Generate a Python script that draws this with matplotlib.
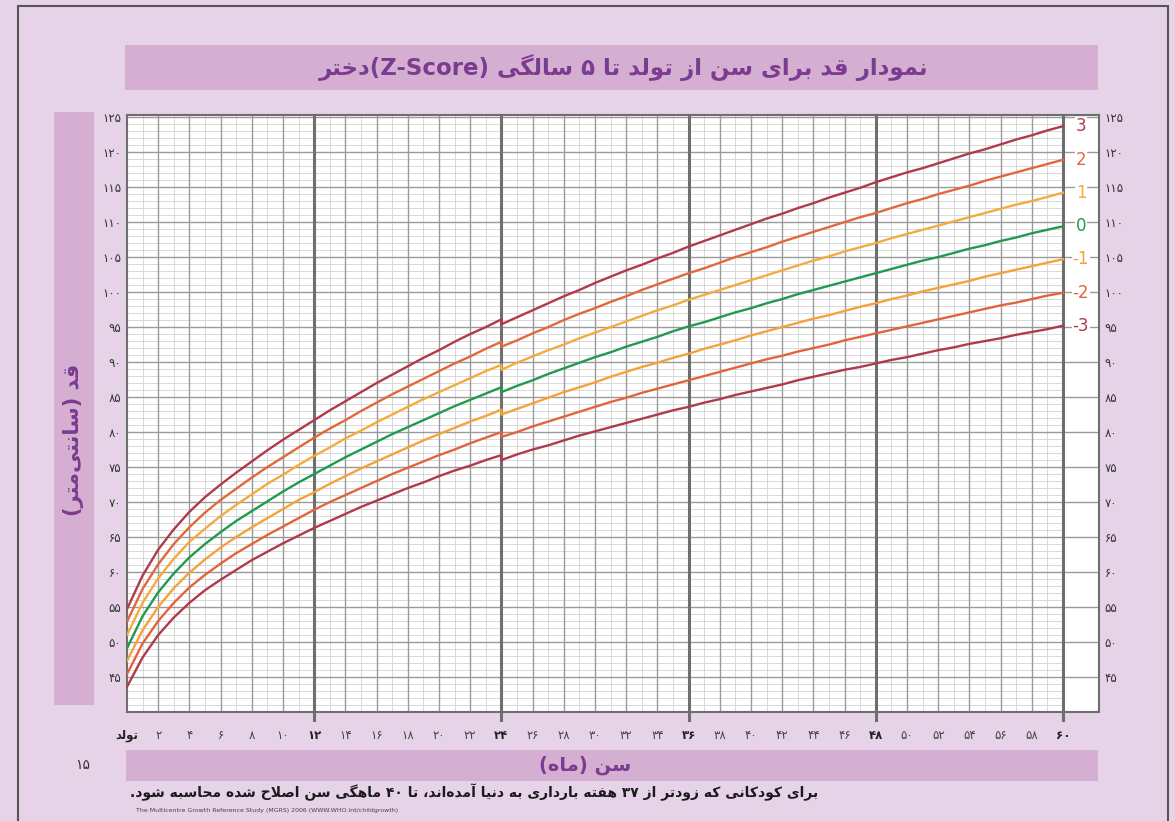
import re
import matplotlib
matplotlib.use('Agg')
import matplotlib.pyplot as plt
from matplotlib.patches import Rectangle

# WHO length/height-for-age, girls 0-60 months (length to 24, height from 24)
ages = list(range(0, 25)) + list(range(24, 61))

sd3neg = [43.6, 47.8, 51.0, 53.5, 55.6, 57.4, 58.9, 60.3, 61.7, 62.9, 64.1, 65.2, 66.3, 67.3, 68.3, 69.3, 70.2, 71.1, 72.0, 72.8, 73.7, 74.5, 75.2, 76.0, 76.7,
          76.0, 76.8, 77.5, 78.1, 78.8, 79.5, 80.1, 80.7, 81.3, 81.9, 82.5, 83.1, 83.6, 84.2, 84.7, 85.3, 85.8, 86.3, 86.8, 87.4, 87.9, 88.4, 88.9, 89.3, 89.8, 90.3, 90.7, 91.2, 91.7, 92.1, 92.6, 93.0, 93.4, 93.9, 94.3, 94.7, 95.2]
sd2neg = [45.4, 49.8, 53.0, 55.6, 57.8, 59.6, 61.2, 62.7, 64.0, 65.3, 66.5, 67.7, 68.9, 70.0, 71.0, 72.0, 73.0, 74.0, 74.9, 75.8, 76.7, 77.5, 78.4, 79.2, 80.0,
          79.3, 80.0, 80.8, 81.5, 82.2, 82.9, 83.6, 84.3, 84.9, 85.6, 86.2, 86.8, 87.4, 88.0, 88.6, 89.2, 89.8, 90.4, 90.9, 91.5, 92.0, 92.5, 93.1, 93.6, 94.1, 94.6, 95.1, 95.6, 96.1, 96.6, 97.1, 97.6, 98.1, 98.5, 99.0, 99.5, 99.9]
sd1neg = [47.3, 51.7, 55.0, 57.7, 59.9, 61.8, 63.5, 65.0, 66.4, 67.7, 69.0, 70.3, 71.4, 72.6, 73.7, 74.8, 75.8, 76.8, 77.8, 78.8, 79.7, 80.6, 81.5, 82.3, 83.2,
          82.5, 83.3, 84.1, 84.9, 85.7, 86.4, 87.1, 87.9, 88.6, 89.3, 89.9, 90.6, 91.2, 91.9, 92.5, 93.1, 93.8, 94.4, 95.0, 95.6, 96.2, 96.7, 97.3, 97.9, 98.4, 99.0, 99.5, 100.1, 100.6, 101.1, 101.6, 102.2, 102.7, 103.2, 103.7, 104.2, 104.7]
median = [49.1, 53.7, 57.1, 59.8, 62.1, 64.0, 65.7, 67.3, 68.7, 70.1, 71.5, 72.8, 74.0, 75.2, 76.4, 77.5, 78.6, 79.7, 80.7, 81.7, 82.7, 83.7, 84.6, 85.5, 86.4,
          85.7, 86.6, 87.4, 88.3, 89.1, 89.9, 90.7, 91.4, 92.2, 92.9, 93.6, 94.4, 95.1, 95.7, 96.4, 97.1, 97.7, 98.4, 99.0, 99.7, 100.3, 100.9, 101.5, 102.1, 102.7, 103.3, 103.9, 104.5, 105.0, 105.6, 106.2, 106.7, 107.3, 107.8, 108.4, 108.9, 109.4]
sd1 = [51.0, 55.6, 59.1, 61.9, 64.3, 66.2, 68.0, 69.6, 71.1, 72.6, 73.9, 75.3, 76.6, 77.8, 79.1, 80.2, 81.4, 82.5, 83.6, 84.7, 85.7, 86.7, 87.7, 88.7, 89.6,
       88.9, 89.9, 90.8, 91.7, 92.5, 93.4, 94.2, 95.0, 95.8, 96.6, 97.4, 98.1, 98.9, 99.6, 100.3, 101.0, 101.7, 102.4, 103.1, 103.8, 104.5, 105.1, 105.8, 106.4, 107.0, 107.7, 108.3, 108.9, 109.5, 110.1, 110.7, 111.3, 111.9, 112.5, 113.0, 113.6, 114.2]
sd2 = [52.9, 57.6, 61.1, 64.0, 66.4, 68.5, 70.3, 71.9, 73.5, 75.0, 76.4, 77.8, 79.2, 80.5, 81.7, 83.0, 84.2, 85.4, 86.5, 87.6, 88.7, 89.8, 90.8, 91.9, 92.9,
       92.2, 93.1, 94.1, 95.0, 96.0, 96.9, 97.7, 98.6, 99.4, 100.3, 101.1, 101.9, 102.7, 103.4, 104.2, 105.0, 105.7, 106.4, 107.2, 107.9, 108.6, 109.3, 110.0, 110.7, 111.3, 112.0, 112.7, 113.3, 114.0, 114.6, 115.2, 115.9, 116.5, 117.1, 117.7, 118.3, 118.9]
sd3 = [54.7, 59.5, 63.2, 66.1, 68.6, 70.7, 72.5, 74.2, 75.8, 77.4, 78.9, 80.3, 81.7, 83.1, 84.4, 85.7, 87.0, 88.2, 89.4, 90.6, 91.7, 92.9, 94.0, 95.0, 96.1,
       95.4, 96.4, 97.4, 98.4, 99.4, 100.3, 101.3, 102.2, 103.1, 103.9, 104.8, 105.6, 106.5, 107.3, 108.1, 108.9, 109.7, 110.5, 111.2, 112.0, 112.7, 113.5, 114.2, 114.9, 115.7, 116.4, 117.1, 117.7, 118.4, 119.1, 119.8, 120.4, 121.1, 121.8, 122.4, 123.1, 123.7]

z_labels = ['3', '2', '1', '0', '-1', '-2', '-3']
x_tick_months = list(range(0, 61, 2))
y_tick_values = list(range(45, 126, 5))

TITLE = 'نمودار قد برای سن از تولد تا ۵ سالگی (Z-Score)دختر'
YLABEL = 'قد (سانتی\u200cمتر)'
XLABEL = 'سن (ماه)'
BIRTH = 'تولد'
NOTE = 'برای کودکانی که زودتر از ۳۷ هفته بارداری به دنیا آمده\u200cاند، تا ۴۰ ماهگی سن اصلاح شده محاسبه شود.'
SOURCE = 'The Multicentre Growth Reference Study (MGRS) 2006 (WWW.WHO.int/childgrowth)'
PAGE = '۱۵'

# --- minimal Arabic/Persian shaping (matplotlib has no complex text layout)
FORMS = {
    'ا': ('\uFE8D', '\uFE8E', None, None), 'آ': ('\uFE81', '\uFE82', None, None),
    'د': ('\uFEA9', '\uFEAA', None, None), 'ذ': ('\uFEAB', '\uFEAC', None, None),
    'ر': ('\uFEAD', '\uFEAE', None, None), 'ز': ('\uFEAF', '\uFEB0', None, None),
    'ژ': ('\uFB8A', '\uFB8B', None, None), 'و': ('\uFEED', '\uFEEE', None, None),
    'ب': ('\uFE8F', '\uFE90', '\uFE91', '\uFE92'), 'پ': ('\uFB56', '\uFB57', '\uFB58', '\uFB59'),
    'ت': ('\uFE95', '\uFE96', '\uFE97', '\uFE98'), 'ث': ('\uFE99', '\uFE9A', '\uFE9B', '\uFE9C'),
    'ج': ('\uFE9D', '\uFE9E', '\uFE9F', '\uFEA0'), 'چ': ('\uFB7A', '\uFB7B', '\uFB7C', '\uFB7D'),
    'ح': ('\uFEA1', '\uFEA2', '\uFEA3', '\uFEA4'), 'خ': ('\uFEA5', '\uFEA6', '\uFEA7', '\uFEA8'),
    'س': ('\uFEB1', '\uFEB2', '\uFEB3', '\uFEB4'), 'ش': ('\uFEB5', '\uFEB6', '\uFEB7', '\uFEB8'),
    'ص': ('\uFEB9', '\uFEBA', '\uFEBB', '\uFEBC'), 'ض': ('\uFEBD', '\uFEBE', '\uFEBF', '\uFEC0'),
    'ط': ('\uFEC1', '\uFEC2', '\uFEC3', '\uFEC4'), 'ظ': ('\uFEC5', '\uFEC6', '\uFEC7', '\uFEC8'),
    'ع': ('\uFEC9', '\uFECA', '\uFECB', '\uFECC'), 'غ': ('\uFECD', '\uFECE', '\uFECF', '\uFED0'),
    'ف': ('\uFED1', '\uFED2', '\uFED3', '\uFED4'), 'ق': ('\uFED5', '\uFED6', '\uFED7', '\uFED8'),
    'ک': ('\uFB8E', '\uFB8F', '\uFB90', '\uFB91'), 'گ': ('\uFB92', '\uFB93', '\uFB94', '\uFB95'),
    'ل': ('\uFEDD', '\uFEDE', '\uFEDF', '\uFEE0'), 'م': ('\uFEE1', '\uFEE2', '\uFEE3', '\uFEE4'),
    'ن': ('\uFEE5', '\uFEE6', '\uFEE7', '\uFEE8'), 'ه': ('\uFEE9', '\uFEEA', '\uFEEB', '\uFEEC'),
    'ی': ('\uFBFC', '\uFBFD', '\uFBFE', '\uFBFF'),
}
LAM_ALEF = {'ا': ('\uFEFB', '\uFEFC'), 'آ': ('\uFEF5', '\uFEF6')}
MIRROR = {'(': ')', ')': '(', '[': ']', ']': '['}


def shape(text):
    out = []
    i = 0
    n = len(text)
    while i < n:
        c = text[i]
        if c not in FORMS:
            if c != '\u200c':
                out.append(c)
            i += 1
            continue
        prev = text[i - 1] if i > 0 else ''
        joins_prev = prev in FORMS and FORMS[prev][2] is not None
        if c == 'ل' and i + 1 < n and text[i + 1] in LAM_ALEF:
            out.append(LAM_ALEF[text[i + 1]][1 if joins_prev else 0])
            i += 2
            continue
        nxt = text[i + 1] if i + 1 < n else ''
        joins_next = FORMS[c][2] is not None and nxt in FORMS
        iso, fin, ini, med = FORMS[c]
        if joins_prev and joins_next:
            out.append(med)
        elif joins_prev:
            out.append(fin)
        elif joins_next:
            out.append(ini)
        else:
            out.append(iso)
        i += 1
    return ''.join(out)


def fa(text):
    """Shape and put an RTL string into visual order."""
    s = shape(text)
    tokens = re.findall(r'[A-Za-z0-9\u06F0-\u06F9](?:[A-Za-z0-9\u06F0-\u06F9\-.]*[A-Za-z0-9\u06F0-\u06F9])?|.', s)
    return ''.join(MIRROR.get(t, t) for t in reversed(tokens))


def fa_digits(v):
    return ''.join(chr(0x06F0 + int(d)) for d in str(v))


plt.rcParams['font.family'] = ['DejaVu Sans']

PAGE_BG = '#e7d3e7'
BAND = '#d5afd2'
PURPLE = '#7b3c90'
W, H = 1175, 821

fig = plt.figure(figsize=(W / 100, H / 100), dpi=100)
fig.patch.set_facecolor(PAGE_BG)


def fx(px):
    return px / W


def fy(py):
    return 1 - py / H


# page frame and coloured bands
fig.add_artist(Rectangle((fx(18), fy(830)), fx(1150), fy(6) - fy(830), transform=fig.transFigure,
                         fill=False, edgecolor='#555555', linewidth=1.5))
fig.add_artist(Rectangle((fx(125), fy(90)), fx(973), 45 / H, transform=fig.transFigure,
                         facecolor=BAND, edgecolor='none'))
fig.add_artist(Rectangle((fx(54), fy(705)), fx(40), 593 / H, transform=fig.transFigure,
                         facecolor=BAND, edgecolor='none'))
fig.add_artist(Rectangle((fx(126), fy(781)), fx(972), 31 / H, transform=fig.transFigure,
                         facecolor=BAND, edgecolor='none'))

XMAX = 972 / 15.6
YMIN, YMAX = 40, 125.3
ax = fig.add_axes([fx(127), fy(712), fx(1099) - fx(127), fy(115) - fy(712)])
ax.set_facecolor('white')
ax.set_xlim(0, XMAX)
ax.set_ylim(YMIN, YMAX)

# grid
for cm in range(41, 126):
    if cm % 5:
        ax.plot([0, 60], [cm, cm], color='#d3d3d3', lw=0.6, zorder=1)
for cm in range(45, 126, 5):
    ax.plot([0, XMAX], [cm, cm], color='#9a9a9a', lw=1.0, zorder=1.2)
for m in range(1, 61):
    if m % 12 == 0:
        continue
    if m % 2:
        ax.plot([m, m], [YMIN, YMAX], color='#d3d3d3', lw=0.6, zorder=1)
    else:
        ax.plot([m, m], [YMIN, YMAX], color='#9a9a9a', lw=1.0, zorder=1.2)
for m in range(12, 61, 12):
    ax.plot([m, m], [YMIN - 1.2, YMAX], color='#6e6e6e', lw=2.2, zorder=1.5, clip_on=False)

# curves
series = [sd3, sd2, sd1, median, sd1neg, sd2neg, sd3neg]
colors = ['#b03a4c', '#e2683c', '#f4ab3e', '#1f9a4e', '#f4a23a', '#e2643a', '#b03a4c']
for vals, col, lab in zip(series, colors, z_labels):
    ax.plot(ages, vals, color=col, lw=1.7, zorder=3)
    ax.text(61.15, vals[-1], lab, color=col, fontsize=12, ha='center', va='center', zorder=4,
            bbox=dict(facecolor='white', edgecolor='none', pad=0.5))

for s in ax.spines.values():
    s.set_color('#6e6e6e')
    s.set_linewidth(1.5)

# ticks
ax.set_yticks(y_tick_values)
ax.set_yticklabels([fa_digits(v) for v in y_tick_values])
ax.tick_params(axis='y', length=0, pad=4, labelsize=8.5, labelcolor='#333333',
               labelleft=True, labelright=True)
ax.set_xticks(x_tick_months)
xlabels = [fa(BIRTH) if m == 0 else fa_digits(m) for m in x_tick_months]
ax.set_xticklabels(xlabels)
ax.tick_params(axis='x', length=0, pad=12, labelsize=8.5, labelcolor='#444444')
for m, t in zip(x_tick_months, ax.get_xticklabels()):
    if m % 12 == 0:
        t.set_fontweight('bold')
        t.set_color('#222222')

# texts
fig.text(fx(624), fy(68), fa(TITLE), fontsize=16.5, fontweight='bold', color=PURPLE,
         ha='center', va='center')
fig.text(fx(74), fy(440), fa(YLABEL), fontsize=15, fontweight='bold', color=PURPLE,
         ha='center', va='center', rotation=90)
fig.text(fx(585), fy(765), fa(XLABEL), fontsize=14, fontweight='bold', color=PURPLE,
         ha='center', va='center')
fig.text(fx(818), fy(792), fa(NOTE), fontsize=10, fontweight='bold', color='#1a1a1a',
         ha='right', va='center')
fig.text(fx(136), fy(810), SOURCE, fontsize=4.5, color='#444444', ha='left', va='center')
fig.text(fx(83), fy(765), PAGE, fontsize=10, color='#333333', ha='center', va='center')

fig.savefig('out.png', dpi=100, facecolor=fig.get_facecolor())
